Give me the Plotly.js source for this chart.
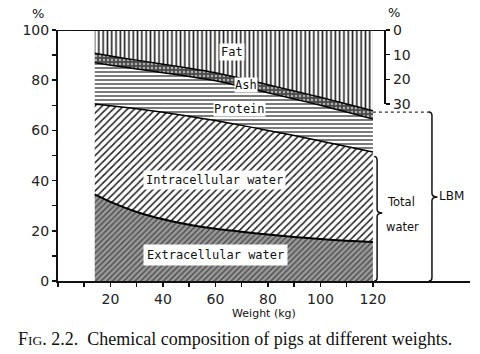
<!DOCTYPE html>
<html><head><meta charset="utf-8">
<script src="https://cdn.plot.ly/plotly-3.0.1.min.js"></script>
<style>html,body{margin:0;padding:0;background:#fff;}#chart{width:480px;height:354px;}</style>
</head><body><div id="chart"></div>
<script>
// Weight (kg)
var weight = [14, 20, 30, 40, 50, 60, 70, 80, 90, 100, 110, 120];
// Components, % of body weight (stacked bottom to top)
var extracellularWater = [34.5, 31.5, 27.5, 24.6, 22.4, 20.8, 19.6, 18.5, 17.5, 16.7, 16.0, 15.5];
var intracellularWater = [36.0, 38.3, 41.1, 42.6, 43.2, 43.1, 42.4, 41.5, 40.5, 39.1, 37.6, 35.9];
var protein            = [16.5, 16.2, 15.9, 15.8, 15.9, 15.9, 15.5, 15.0, 14.5, 14.2, 13.7, 13.1];
var ash                = [3.7, 3.6, 3.5, 3.4, 3.3, 3.2, 3.2, 3.2, 3.2, 3.2, 3.2, 3.3];
var fat = weight.map(function(_, i){
  return +(100 - extracellularWater[i] - intracellularWater[i] - protein[i] - ash[i]).toFixed(1);
});
var xTicks = [0,10,20,30,40,50,60,70,80,90,100,110,120];
var xTickText = ['','','20','','40','','60','','80','','100','','120'];
var yTicks = [0,10,20,30,40,50,60,70,80,90,100];
var yTickText = ['0','','20','','40','','60','','80','','100'];
var fatTicks = [0,10,20,30];

var lab = {family:'DejaVu Sans Mono', size:12, color:'#111'};
function area(y, name, line, pat){
  return {x: weight, y: y, name: name, type:'scatter', mode:'lines', stackgroup:'one',
    line:{color:'#000', width: line, shape:'spline', smoothing:0.6}, fillcolor: pat.bgcolor,
    fillpattern: pat, hoverinfo:'skip'};
}
var traces = [
  area(extracellularWater, 'Extracellular water', 2, {shape:'/', bgcolor:'#9a9a9a', fgcolor:'#4a4a4a', size:4, solidity:0.35}),
  area(intracellularWater, 'Intracellular water', 1.5, {shape:'/', bgcolor:'#ffffff', fgcolor:'#222', size:5, solidity:0.3}),
  area(protein, 'Protein', 1.5, {shape:'-', bgcolor:'#ffffff', fgcolor:'#222', size:4, solidity:0.3}),
  area(ash, 'Ash', 1.5, {shape:'.', bgcolor:'#4a4a4a', fgcolor:'#b0b0b0', size:4, solidity:0.3}),
  area(fat, 'Fat', 0, {shape:'|', bgcolor:'#ffffff', fgcolor:'#222', size:4.3, solidity:0.38}),
  {x:[0], y:[0], yaxis:'y2', type:'scatter', mode:'markers', marker:{opacity:0}, showlegend:false, hoverinfo:'skip'}
];

function pa(x, y, text, font, extra){
  var a = {xref:'paper', yref:'paper', x:(x-58)/412, y:(281-y)/251, xanchor:'center', yanchor:'middle',
    text:text, showarrow:false, font:font};
  if (extra) for (var k in extra) a[k] = extra[k];
  return a;
}
var sideFont = {size:11.5, family:'DejaVu Sans', color:'#111'};
var layout = {
  width:480, height:354, showlegend:false,
  margin:{l:58, r:10, t:30, b:73},
  paper_bgcolor:'#fff', plot_bgcolor:'rgba(0,0,0,0)',
  font:{family:'DejaVu Sans', color:'#111'},
  xaxis:{range:[0,157], showgrid:false, zeroline:false, showline:true, linecolor:'#111', linewidth:2,
    tickvals:xTicks, ticktext:xTickText, ticks:'outside', ticklen:4, tickwidth:1.5, tickcolor:'#111',
    tickfont:{size:14, family:'DejaVu Sans', color:'#222'},
    title:{text:'Weight (kg)', font:{size:11, family:'DejaVu Sans', color:'#111'}, standoff:2}},
  yaxis:{range:[0,100], showgrid:false, zeroline:false, showline:true, linecolor:'#111', linewidth:2,
    tickvals:yTicks, ticktext:yTickText, ticks:'outside', ticklen:4, tickwidth:1.5, tickcolor:'#111',
    tickfont:{size:14, family:'DejaVu Sans', color:'#222'}},
  yaxis2:{domain:[0.705,1], range:[30,0], anchor:'free', side:'right', position:0.794,
    showgrid:false, zeroline:false, showline:true, linecolor:'#111', linewidth:2,
    tickvals:fatTicks, ticks:'outside', ticklen:4, tickwidth:1.5, tickcolor:'#111',
    tickfont:{size:14, family:'DejaVu Sans', color:'#222'}},
  shapes:[
    {type:'line', xref:'x', yref:'y', x0:0, x1:124.6, y0:100, y1:100, line:{color:'#111', width:2}},
    {type:'line', xref:'x', yref:'y', x0:120, x1:142.5, y0:67.3, y1:67.3, line:{color:'#333', width:1.2, dash:'dot'}},
    {type:'path', xref:'x', yref:'y', path:'M 141.3,67.3 Q 142.5,67.3 142.5,65.8 L 142.5,35 Q 142.5,33.5 144.6,33.5 Q 142.5,33.5 142.5,32 L 142.5,1.3 Q 142.5,0 141.3,0', line:{color:'#111', width:1.5}},
    {type:'path', xref:'x', yref:'y', path:'M 120.5,49.6 Q 121.6,49.6 121.6,48 L 121.6,28.6 Q 121.6,27.1 123.6,27.1 Q 121.6,27.1 121.6,25.6 L 121.6,1.3 Q 121.6,0 120.5,0', line:{color:'#111', width:1.5}}
  ],
  annotations:[
    {xref:'x', yref:'y', x:66.3, y:91.2, text:'Fat', showarrow:false, font:lab, bgcolor:'#fff', borderpad:1},
    {xref:'x', yref:'y', x:71.5, y:78.2, text:'Ash', showarrow:false, font:lab, bgcolor:'#fff', borderpad:0},
    {xref:'x', yref:'y', x:69.3, y:68.4, text:'Protein', showarrow:false, font:lab, bgcolor:'#fff', borderpad:0},
    {xref:'x', yref:'y', x:59.8, y:40.4, text:'Intracellular water', showarrow:false, font:lab, bgcolor:'#fff', borderpad:2},
    {xref:'x', yref:'y', x:60.2, y:10.2, text:'Extracellular water', showarrow:false, font:lab, bgcolor:'#fff', borderpad:3},
    pa(401, 202, 'Total', sideFont),
    pa(402, 227, 'water', sideFont),
    pa(451, 196, 'LBM', {size:12, family:'DejaVu Sans', color:'#111'}),
    pa(38, 13, '%', {size:13, family:'DejaVu Sans', color:'#111'}),
    pa(394, 12, '%', {size:13, family:'DejaVu Sans', color:'#111'}),
    pa(16, 339, 'F<span style="font-size:13.5px">IG</span>. 2.2.  Chemical composition of pigs at different weights.',
      {size:18, family:'Liberation Serif', color:'#111'}, {xanchor:'left'})
  ]
};
Plotly.newPlot('chart', traces, layout, {displayModeBar:false, staticPlot:true});
</script></body></html>
